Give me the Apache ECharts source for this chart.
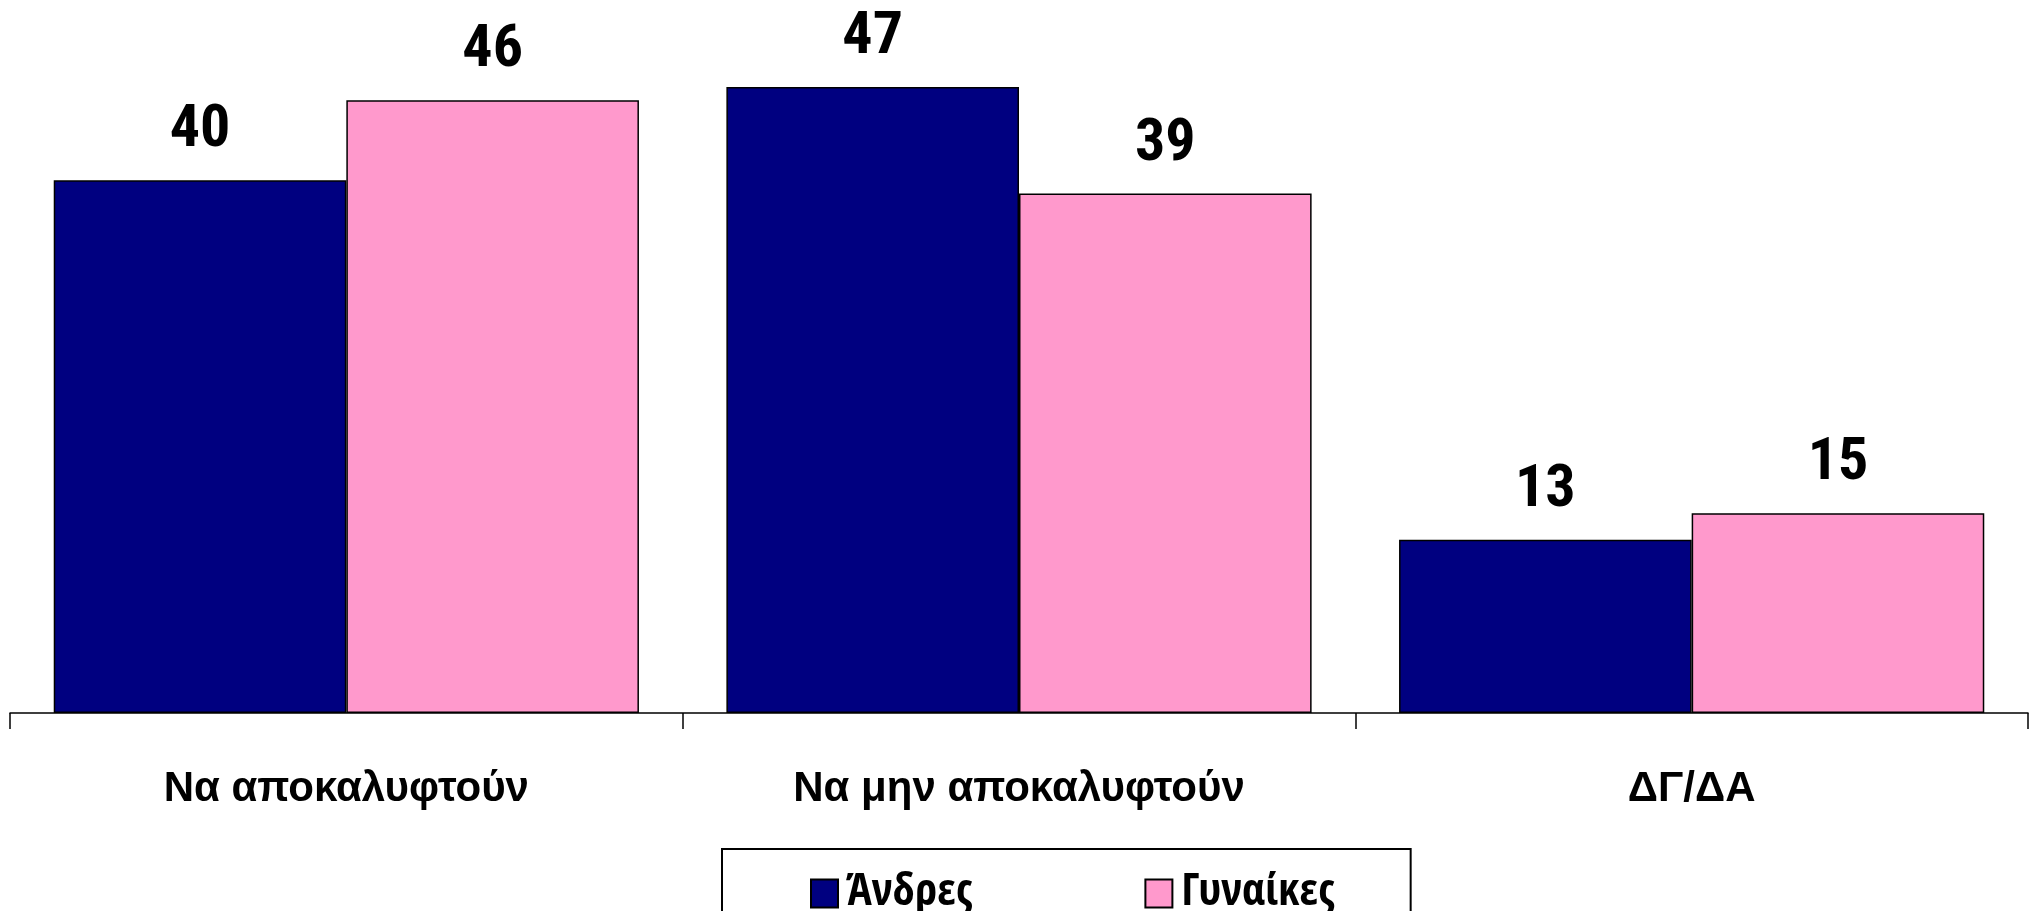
<!DOCTYPE html>
<html>
<head>
<meta charset="utf-8">
<script src="https://cdn.jsdelivr.net/npm/echarts@6/dist/echarts.min.js"></script>
<style>
html,body{margin:0;padding:0;background:#fff;}
#chart{width:2031px;height:911px;}
</style>
</head>
<body>
<div id="chart"></div>
<script>
const categories = ['Να αποκαλυφτούν', 'Να μην αποκαλυφτούν', 'ΔΓ/ΔΑ'];
const seriesNames = ['Άνδρες', 'Γυναίκες'];
const men = [40, 47, 13];
const women = [46, 39, 15];

const chart = echarts.init(document.getElementById('chart'));
const labelStyle = {
  show: true,
  position: 'top',
  distance: 19,
  fontFamily: '"Roboto Condensed", "Liberation Sans", sans-serif',
  fontWeight: 'bold',
  fontSize: 60,
  color: '#000'
};
chart.setOption({
  animation: false,
  backgroundColor: '#fff',
  grid: { left: 10, right: 3, top: 47, bottom: 198, containLabel: false },
  legend: {
    data: seriesNames,
    left: 722,
    top: 849,
    orient: 'horizontal',
    borderColor: '#000',
    borderWidth: 2,
    padding: [22, 76, 40, 88],
    itemGap: 172,
    itemWidth: 27,
    itemHeight: 28,
    icon: 'rect',
    textStyle: {
      fontFamily: '"Open Sans Condensed", "Roboto Condensed", sans-serif',
      fontWeight: 'bold',
      fontSize: 45,
      color: '#000',
      padding: [0, 0, 0, 4]
    }
  },
  xAxis: {
    type: 'category',
    data: categories,
    axisLine: { lineStyle: { color: '#000', width: 1.5 } },
    axisTick: { show: true, alignWithLabel: false, length: 16, lineStyle: { color: '#000', width: 1.5 } },
    axisLabel: {
      margin: 55,
      fontFamily: '"Liberation Sans", Arial, sans-serif',
      fontWeight: 'bold',
      fontSize: 42,
      color: '#000'
    }
  },
  yAxis: {
    type: 'value',
    min: 0,
    max: 50,
    show: false,
    splitLine: { show: false }
  },
  series: [
    {
      name: seriesNames[0],
      type: 'bar',
      data: men,
      barGap: '0%',
      barCategoryGap: '13%',
      itemStyle: { color: '#000080', borderColor: '#000', borderWidth: 1.5 },
      label: labelStyle
    },
    {
      name: seriesNames[1],
      type: 'bar',
      data: women,
      barGap: '0%',
      barCategoryGap: '13%',
      itemStyle: { color: '#FF99CC', borderColor: '#000', borderWidth: 1.5 },
      label: labelStyle
    }
  ]
});
</script>
</body>
</html>
